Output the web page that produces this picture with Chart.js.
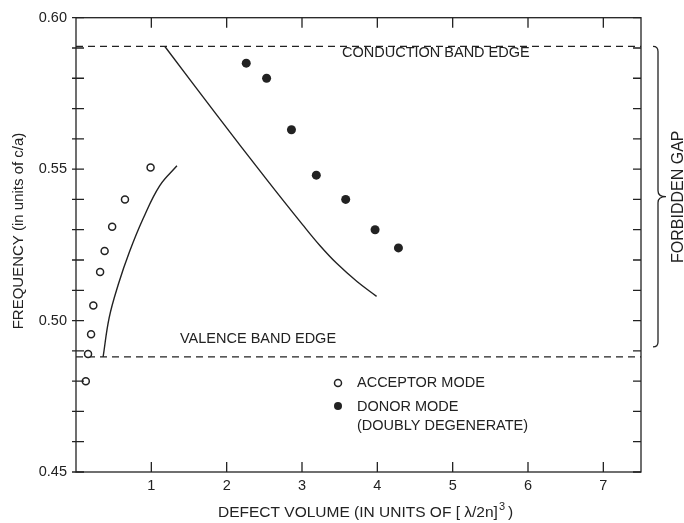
<!DOCTYPE html>
<html lang="en">
<head>
    <meta charset="UTF-8">
    <title>Defect modes in the forbidden gap</title>
    <style>
        body {
            margin: 0;
            background: #fff;
        }
        #wrap {
            width: 684px;
            height: 523px;
        }
    </style>
</head>
<body>
    <div id="wrap"><canvas id="chart" width="684" height="523"></canvas></div>

    <script src="https://cdn.jsdelivr.net/npm/chart.js@4.4.0/dist/chart.umd.min.js"></script>
    <script>
        // values
        const acceptorX = [0.13, 0.16, 0.20, 0.23, 0.32, 0.38, 0.48, 0.65, 0.99];
        const acceptorY = [0.480, 0.489, 0.4955, 0.505, 0.516, 0.523, 0.531, 0.540, 0.5505];
        const donorX = [2.26, 2.53, 2.86, 3.19, 3.58, 3.97, 4.28];
        const donorY = [0.585, 0.580, 0.563, 0.548, 0.540, 0.530, 0.524];
        const acceptorCurveX = [0.36, 0.44, 0.56, 0.71, 0.89, 1.11, 1.34];
        const acceptorCurveY = [0.488, 0.5009, 0.5118, 0.5227, 0.5336, 0.5445, 0.5511];
        const donorCurveX = [1.18, 1.85, 2.54, 3.01, 3.24, 3.46, 3.73, 3.99];
        const donorCurveY = [0.5905, 0.5685, 0.5463, 0.5316, 0.5247, 0.5189, 0.5129, 0.508];
        const bandEdges = [0.5905, 0.488]; // conduction, valence
        const xTickLabels = [1, 2, 3, 4, 5, 6, 7];
        const yTickLabels = [0.45, 0.50, 0.55, 0.60];
        const yMinorStep = 0.01;

        const ink = '#222';
        const font = '"Liberation Sans", Arial, Helvetica, sans-serif';

        function pts(xs, ys) {
            return xs.map((x, i) => ({ x: x, y: ys[i] }));
        }

        // axes box, inward ticks, bracket, labels
        const decorations = {
            id: 'decorations',
            afterDraw(chart) {
                const ctx = chart.ctx;
                const a = chart.chartArea;
                const xs = chart.scales.x;
                const ys = chart.scales.y;
                ctx.save();
                ctx.strokeStyle = ink;
                ctx.fillStyle = ink;
                ctx.lineWidth = 1.3;
                ctx.strokeRect(a.left, a.top, a.right - a.left, a.bottom - a.top);

                ctx.beginPath();
                xTickLabels.forEach(v => {
                    const px = xs.getPixelForValue(v);
                    ctx.moveTo(px, a.bottom); ctx.lineTo(px, a.bottom - 10);
                    ctx.moveTo(px, a.top); ctx.lineTo(px, a.top + 10);
                });
                for (let v = ys.min; v <= ys.max + 1e-9; v += yMinorStep) {
                    const py = ys.getPixelForValue(v);
                    ctx.moveTo(a.left - 4, py); ctx.lineTo(a.left + 8, py);
                    ctx.moveTo(a.right, py); ctx.lineTo(a.right - 8, py);
                }
                ctx.stroke();

                // brace for the forbidden gap
                const yTop = ys.getPixelForValue(bandEdges[0]);
                const yBot = ys.getPixelForValue(bandEdges[1]) - 10;
                const yMid = (yTop + yBot) / 2;
                const bx = a.right + 17;
                ctx.beginPath();
                ctx.moveTo(a.right + 12, yTop);
                ctx.quadraticCurveTo(bx, yTop, bx, yTop + 5);
                ctx.lineTo(bx, yMid - 6);
                ctx.quadraticCurveTo(bx, yMid, bx + 8, yMid);
                ctx.quadraticCurveTo(bx, yMid, bx, yMid + 6);
                ctx.lineTo(bx, yBot - 5);
                ctx.quadraticCurveTo(bx, yBot, a.right + 12, yBot);
                ctx.stroke();

                ctx.font = '14.5px ' + font;
                ctx.textBaseline = 'middle';
                ctx.textAlign = 'left';
                ctx.fillText('CONDUCTION BAND EDGE', 342, 53);
                ctx.fillText('VALENCE BAND EDGE', 180, 339);
                ctx.fillText('ACCEPTOR MODE', 357, 383);
                ctx.fillText('DONOR MODE', 357, 407);
                ctx.fillText('(DOUBLY DEGENERATE)', 357, 426);

                // legend markers
                ctx.lineWidth = 1.5;
                ctx.beginPath();
                ctx.arc(338, 383, 3.5, 0, Math.PI * 2);
                ctx.stroke();
                ctx.beginPath();
                ctx.arc(338, 406, 4, 0, Math.PI * 2);
                ctx.fill();

                // x title with a raised cube
                ctx.font = '15.5px ' + font;
                const main = 'DEFECT VOLUME (IN UNITS OF [ \u03bb/2n]';
                let tx = 218;
                ctx.fillText(main, tx, 513);
                tx += ctx.measureText(main).width + 1;
                ctx.font = '11px ' + font;
                ctx.fillText('3', tx, 507);
                tx += ctx.measureText('3').width + 3;
                ctx.font = '15.5px ' + font;
                ctx.fillText(')', tx, 513);

                ctx.textAlign = 'center';
                ctx.font = '15px ' + font;
                ctx.save();
                ctx.translate(19, 231);
                ctx.rotate(-Math.PI / 2);
                ctx.fillText('FREQUENCY (in units of c/a)', 0, 0);
                ctx.restore();

                ctx.save();
                ctx.translate(679, yMid);
                ctx.rotate(-Math.PI / 2);
                ctx.font = '16px ' + font;
                ctx.fillText('FORBIDDEN GAP', 0, 0);
                ctx.restore();

                ctx.restore();
            }
        };

        const dash = [7, 5];

        new Chart(document.getElementById('chart'), {
            type: 'scatter',
            data: {
                datasets: [
                    {
                        label: 'Acceptor mode',
                        data: pts(acceptorX, acceptorY),
                        pointStyle: 'circle',
                        pointRadius: 3.5,
                        pointBorderWidth: 1.5,
                        borderColor: ink,
                        backgroundColor: '#fff'
                    },
                    {
                        label: 'Donor mode',
                        data: pts(donorX, donorY),
                        pointRadius: 4.5,
                        pointBorderWidth: 0,
                        borderColor: ink,
                        backgroundColor: ink
                    },
                    {
                        label: 'Acceptor curve',
                        data: pts(acceptorCurveX, acceptorCurveY),
                        showLine: true,
                        pointRadius: 0,
                        borderColor: ink,
                        borderWidth: 1.4,
                        tension: 0.4
                    },
                    {
                        label: 'Donor curve',
                        data: pts(donorCurveX, donorCurveY),
                        showLine: true,
                        pointRadius: 0,
                        borderColor: ink,
                        borderWidth: 1.4,
                        tension: 0.4
                    },
                    {
                        label: 'Conduction band edge',
                        data: [{ x: 0, y: bandEdges[0] }, { x: 7.5, y: bandEdges[0] }],
                        showLine: true,
                        pointRadius: 0,
                        borderColor: ink,
                        borderWidth: 1.2,
                        borderDash: dash
                    },
                    {
                        label: 'Valence band edge',
                        data: [{ x: 0, y: bandEdges[1] }, { x: 7.5, y: bandEdges[1] }],
                        showLine: true,
                        pointRadius: 0,
                        borderColor: ink,
                        borderWidth: 1.2,
                        borderDash: dash
                    }
                ]
            },
            options: {
                responsive: false,
                animation: false,
                layout: { padding: { top: 14, right: 43, left: 0, bottom: 0 } },
                plugins: {
                    legend: { display: false },
                    tooltip: { enabled: false }
                },
                scales: {
                    x: {
                        type: 'linear',
                        min: 0,
                        max: 7.5,
                        grid: { display: false, drawTicks: false },
                        border: { display: false },
                        afterBuildTicks(s) { s.ticks = xTickLabels.map(v => ({ value: v })); },
                        afterFit(s) { s.height = 51; },
                        ticks: {
                            autoSkip: false,
                            maxRotation: 0,
                            padding: 5,
                            color: ink,
                            font: { family: font, size: 14.5 },
                            callback: v => String(v)
                        }
                    },
                    y: {
                        min: 0.45,
                        max: 0.60,
                        grid: { display: false, drawTicks: false },
                        border: { display: false },
                        afterBuildTicks(s) { s.ticks = yTickLabels.map(v => ({ value: v })); },
                        afterFit(s) { s.width = 76; },
                        ticks: {
                            autoSkip: false,
                            padding: 9,
                            color: ink,
                            font: { family: font, size: 14.5 },
                            callback: v => v.toFixed(2)
                        }
                    }
                }
            },
            plugins: [decorations]
        });
    </script>
</body>
</html>
